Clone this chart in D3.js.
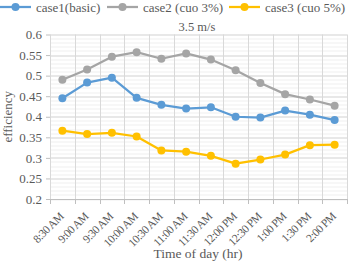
<!DOCTYPE html>
<html>
<head>
<meta charset="utf-8">
<script src="https://cdn.jsdelivr.net/npm/d3@7"></script>
<style>
  body { margin: 0; background: #fff; }
  svg text { font-family: "Liberation Serif", "Times New Roman", serif !important; fill: #595959; }
</style>
</head>
<body>
<div id="chart"></div>
<script>
(function () {

  // Data
  const times = ["8:30 AM","9:00 AM","9:30 AM","10:00 AM","10:30 AM","11:00 AM","11:30 AM","12:00 PM","12:30 PM","1:00 PM","1:30 PM","2:00 PM"]
  const case1 = [0.445, 0.483, 0.495, 0.446, 0.429, 0.420, 0.423, 0.400, 0.398, 0.415, 0.405, 0.392]
  const case2 = [0.490, 0.515, 0.546, 0.557, 0.541, 0.554, 0.539, 0.513, 0.482, 0.455, 0.442, 0.427]
  const case3 = [0.366, 0.358, 0.361, 0.352, 0.318, 0.315, 0.305, 0.286, 0.296, 0.308, 0.331, 0.332]
  const seriesNames = ["case1(basic)", "case2 (cuo 3%)", "case3 (cuo 5%)"]
  const yTicks = [0.2, 0.25, 0.3, 0.35, 0.4, 0.45, 0.5, 0.55, 0.6]

  const series = [
    { name: seriesNames[0], values: case1, color: "#5B9BD5" },
    { name: seriesNames[1], values: case2, color: "#A5A5A5" },
    { name: seriesNames[2], values: case3, color: "#FFC000" }
  ]

  const W = 350, H = 263
  const margin = { top: 34.5, right: 3, bottom: 64, left: 50 }
  const width = W - margin.left - margin.right
  const height = H - margin.top - margin.bottom

  const svg = d3.select("#chart").append("svg")
    .attr("width", W)
    .attr("height", H)

  const g = svg.append("g")
    .attr("transform", "translate(" + margin.left + "," + margin.top + ")")

  const x = d3.scaleBand()
    .domain(times)
    .range([0, width])

  const y = d3.scaleLinear()
    .domain([0.2, 0.6])
    .range([height, 0])

  // Minor horizontal gridlines
  g.append("g")
    .selectAll("line")
    .data(d3.range(0.2, 0.6001, 0.01))
    .join("line")
    .attr("x1", 0)
    .attr("x2", width)
    .attr("y1", d => Math.round(y(d)) + 0.5)
    .attr("y2", d => Math.round(y(d)) + 0.5)
    .attr("stroke", "#efefef")

  // Vertical gridlines at category boundaries
  g.append("g")
    .selectAll("line")
    .data(d3.range(times.length + 1))
    .join("line")
    .attr("x1", i => Math.round(i * x.step()) + 0.5)
    .attr("x2", i => Math.round(i * x.step()) + 0.5)
    .attr("y1", 0)
    .attr("y2", height)
    .attr("stroke", "#d9d9d9")

  // Major horizontal gridlines
  g.append("g")
    .selectAll("line")
    .data(yTicks.slice(1))
    .join("line")
    .attr("x1", 0)
    .attr("x2", width)
    .attr("y1", d => Math.round(y(d)) + 0.5)
    .attr("y2", d => Math.round(y(d)) + 0.5)
    .attr("stroke", "#d9d9d9")

  // Y axis
  const yAxis = g.append("g")
    .call(d3.axisLeft(y).tickValues(yTicks).tickFormat(d3.format("")).tickSize(4).tickPadding(4))
  yAxis.select(".domain").remove()
  yAxis.selectAll("line").attr("stroke", "#bfbfbf")
  yAxis.selectAll("text").attr("font-size", 13)

  // X axis
  const xAxis = g.append("g")
    .attr("transform", "translate(0," + height + ")")
  xAxis.append("line")
    .attr("x1", 0).attr("x2", width)
    .attr("y1", 0.5).attr("y2", 0.5)
    .attr("stroke", "#bfbfbf")
  xAxis.selectAll("line.tick")
    .data(d3.range(times.length + 1))
    .join("line")
    .attr("class", "tick")
    .attr("x1", i => Math.round(i * x.step()) + 0.5)
    .attr("x2", i => Math.round(i * x.step()) + 0.5)
    .attr("y1", 0)
    .attr("y2", 5)
    .attr("stroke", "#bfbfbf")
  xAxis.selectAll("text")
    .data(times)
    .join("text")
    .attr("transform", d => "translate(" + (x(d) + x.bandwidth() / 2 + 2) + ",18) rotate(-45)")
    .attr("text-anchor", "end")
    .attr("font-size", 11.5)
    .style("letter-spacing", "-0.5px")
    .text(d => d)

  // Lines and markers
  const line = d3.line()
    .x((d, i) => x(times[i]) + x.bandwidth() / 2)
    .y(d => y(d))

  series.forEach(s => {
    g.append("path")
      .datum(s.values)
      .attr("fill", "none")
      .attr("stroke", s.color)
      .attr("stroke-width", 2.25)
      .attr("stroke-linejoin", "round")
      .attr("d", line)
    g.append("g")
      .selectAll("circle")
      .data(s.values)
      .join("circle")
      .attr("cx", (d, i) => x(times[i]) + x.bandwidth() / 2)
      .attr("cy", d => y(d))
      .attr("r", 4)
      .attr("fill", s.color)
  })

  // Title
  svg.append("text")
    .attr("x", 197)
    .attr("y", 31)
    .attr("text-anchor", "middle")
    .attr("font-size", 12.5)
    .text("3.5 m/s")

  // Axis titles
  svg.append("text")
    .attr("x", 198)
    .attr("y", 258)
    .attr("text-anchor", "middle")
    .attr("font-size", 13.5)
    .text("Time of day (hr)")

  svg.append("text")
    .attr("transform", "translate(12," + (margin.top + height / 2) + ") rotate(-90)")
    .attr("text-anchor", "middle")
    .attr("font-size", 13)
    .text("efficiency")

  // Legend
  const legendX = [0, 107, 229]
  const legend = svg.append("g")
  series.forEach((s, i) => {
    const lg = legend.append("g").attr("transform", "translate(" + legendX[i] + ",7)")
    lg.append("line")
      .attr("x1", 0).attr("x2", 31)
      .attr("stroke", s.color)
      .attr("stroke-width", 2.25)
    lg.append("circle")
      .attr("cx", 15.5)
      .attr("r", 4)
      .attr("fill", s.color)
    lg.append("text")
      .attr("x", 36)
      .attr("y", 4.5)
      .attr("font-size", 13)
      .text(s.name)
  })

})();
</script>
</body>
</html>
